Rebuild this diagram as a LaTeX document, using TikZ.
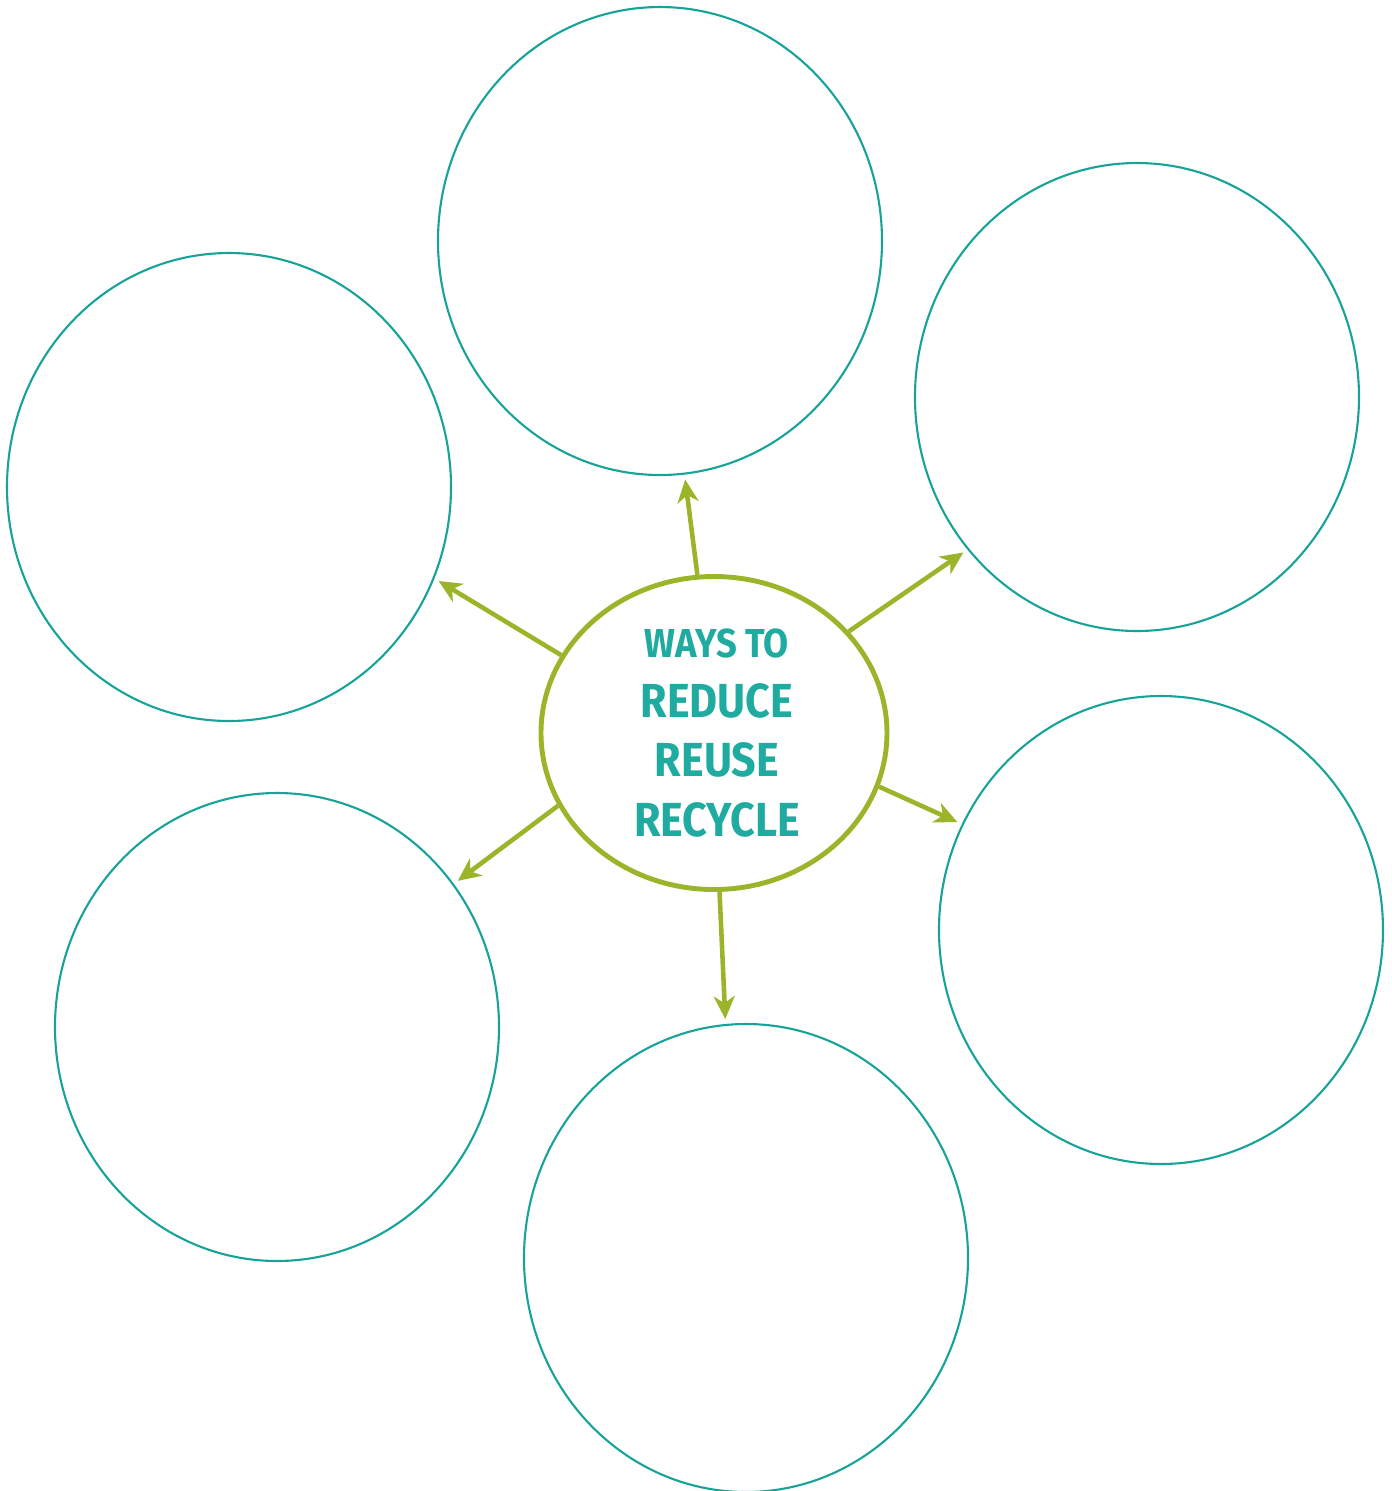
\documentclass[tikz,border=0pt]{standalone}
\usepackage{fontspec}
\usetikzlibrary{shapes.geometric,arrows.meta}
\newfontfamily\hubfont[FakeStretch=0.9]{Fira Sans}
\definecolor{ringteal}{HTML}{17A398}
\definecolor{textteal}{HTML}{1FAB9F}
\definecolor{leafgreen}{HTML}{9BB52A}

\begin{document}
\begin{tikzpicture}[ring/.style = {draw=ringteal, ellipse, line width=0.6pt, minimum width=4.44cm, minimum height=4.68cm, inner sep=0pt},
		hub/.style = {draw=leafgreen, ellipse, line width=1.4pt, minimum width=3.46cm, minimum height=3.13cm, inner sep=0pt},
		link/.style = {draw=leafgreen, line width=1.3pt, -{Stealth[length=6.5pt, width=6pt, inset=2pt]}, shorten >=1.4pt}]
		\useasboundingbox (0,0) rectangle (13.92,-14.91);
		\node[hub] (hub) at (7.14,-7.33) {};
		\node[text=textteal, align=center, inner sep=0pt, font=\hubfont\bfseries\fontsize{13.6}{17}\selectfont] (title) at (7.17,-7.33)
			{{\fontsize{11.5}{17}\selectfont WAYS TO}\\ REDUCE\\ REUSE\\ RECYCLE};
		\node[ring] (1) at (6.60,-2.41) {};
		\node[ring] (2) at (11.37,-3.97) {};
		\node[ring] (3) at (2.29,-4.87) {};
		\node[ring] (4) at (11.61,-9.30) {};
		\node[ring] (5) at (2.77,-10.27) {};
		\node[ring] (6) at (7.46,-12.58) {};
		\draw[link] (hub.96) -- (1.-84);
		\draw[link] (hub.37) -- (2.222);
		\draw[link] (hub.153) -- (3.-24);
		\draw[link] (hub.-18) -- (4.152);
		\draw[link] (hub.205) -- (5.39);
		\draw[link] (hub.-88) -- (6.95);
	\end{tikzpicture}
\end{document}
